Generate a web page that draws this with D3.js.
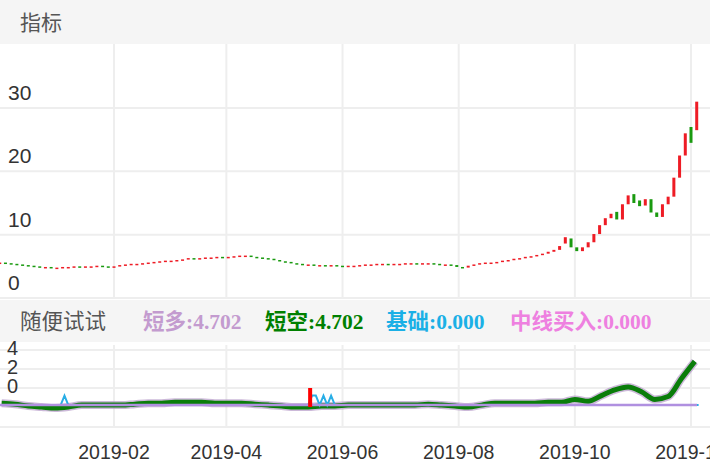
<!DOCTYPE html>
<html><head><meta charset="utf-8">
<script src="https://cdn.jsdelivr.net/npm/d3@7"></script>
<style>body{margin:0;background:#fff}svg{display:block}</style>
</head><body><svg id="c" width="710" height="472"></svg>
<script>
// candle closes, one every 3 days from 2018-12-03
var closes = [5.6,5.5,5.4,5.3,5.2,5.1,5.0,4.9,4.9,4.8,
  4.8,4.9,4.9,5.0,4.9,5.0,5.0,5.1,5.0,4.9,
  5.0,5.2,5.3,5.4,5.4,5.5,5.6,5.7,5.8,5.9,
  5.9,6.0,6.1,6.3,6.2,6.3,6.4,6.4,6.5,6.4,
  6.5,6.6,6.7,6.7,6.5,6.4,6.3,6.2,6.0,5.8,
  5.7,5.5,5.4,5.3,5.3,5.2,5.2,5.1,5.2,5.1,
  5.0,5.1,5.1,5.2,5.3,5.3,5.4,5.4,5.3,5.4,
  5.4,5.5,5.5,5.4,5.5,5.5,5.4,5.3,5.3,5.2,
  4.9,4.8,5.1,5.3,5.5,5.6,5.6,5.7,5.9,6.0,
  6.2,6.3,6.5,6.6,6.8,7.0,7.3,7.6,8.2,9.6,
  8.0,7.4,8.0,8.8,10.1,11.5,12.6,13.3,12.4,14.8,
  16.2,15.0,14.5,15.6,13.5,12.8,14.8,16.0,19.0,22.5,
  26.0,24.5,31.0];
var opens = [5.5,5.6,5.5,5.4,5.3,5.2,5.1,5.0,4.9,4.9,
  4.8,4.8,4.9,4.9,5.0,4.9,5.0,5.0,5.1,5.0,
  4.9,5.0,5.2,5.3,5.4,5.4,5.5,5.6,5.7,5.8,
  5.9,5.9,6.0,6.1,6.3,6.2,6.3,6.4,6.4,6.5,
  6.4,6.5,6.6,6.7,6.7,6.5,6.4,6.3,6.2,6.0,
  5.8,5.7,5.5,5.4,5.3,5.3,5.2,5.2,5.1,5.2,
  5.1,5.0,5.1,5.1,5.2,5.3,5.3,5.4,5.4,5.3,
  5.4,5.4,5.5,5.5,5.4,5.5,5.5,5.4,5.3,5.3,
  5.2,4.9,4.8,5.1,5.3,5.5,5.6,5.6,5.7,5.9,
  6.0,6.2,6.3,6.5,6.6,6.8,7.0,7.3,7.6,8.6,
  9.4,8.0,7.4,8.0,8.8,10.1,11.5,12.6,13.6,12.4,
  14.8,16.4,15.4,14.6,15.6,13.5,12.8,14.8,16.0,19.0,
  22.5,27.0,26.5];
var yTicks = [0,10,20,30];
var monthTicks = ["2019-02-01","2019-04-01","2019-06-01","2019-08-01","2019-10-01","2019-12-01"];

// indicator, weekly from 2018-12-04
var shortEmpty = [-1.6,-1.7,-1.9,-2.0,-2.1,-2.0,-1.8,-1.8,-1.8,-1.8,-1.7,-1.6,-1.6,-1.5,-1.5,-1.5,-1.6,
  -1.6,-1.6,-1.7,-1.8,-1.9,-2.0,-2.0,-1.9,-1.9,-1.8,-1.8,-1.8,-1.8,-1.8,-1.8,-1.7,-1.8,-1.9,-2.0,
  -1.8,-1.6,-1.6,-1.6,-1.6,-1.5,-1.5,-1.2,-1.4,-0.8,-0.2,0.1,-0.4,-1.2,-0.9,1.0,2.8];
var baseDates = ["2018-12-03","2019-01-04","2019-01-06","2019-01-08","2019-05-14","2019-05-16","2019-05-18","2019-05-20",
  "2019-05-22","2019-05-24","2019-05-26","2019-05-28","2019-12-05"];
var baseVals = [-1.8,-1.8,-0.8,-1.8,-1.8,-0.8,-0.8,-1.8,-0.8,-1.8,-0.8,-1.8,-1.8];
var midLine = -1.8;
var signalDate = "2019-05-15", signalRange = [0,-2];
var subTicks = [0,2,4];

var parse = d3.timeParse("%Y-%m-%d");
var svg = d3.select("#c");
var x = d3.scaleTime().domain([parse("2019-02-01"), parse("2019-12-01")]).range([114, 691]);
var y = d3.scaleLinear().domain([0,30]).range([298,108]);
var ys = d3.scaleLinear().domain([0,4]).range([388,350]);

// header bands
svg.append("rect").attr("x",0).attr("y",0).attr("width",710).attr("height",44).attr("fill","#f5f5f5");
svg.append("text").attr("x",20).attr("y",30).attr("font-size",21).attr("fill","#555")
  .attr("font-family","Noto Sans CJK SC").text("指标");
svg.append("rect").attr("x",0).attr("y",300).attr("width",710).attr("height",42).attr("fill","#f5f5f5");

// grid
var g = svg.append("g").attr("stroke","#eee").attr("stroke-width",2);
monthTicks.forEach(function(m){
  g.append("line").attr("x1",x(parse(m))).attr("x2",x(parse(m))).attr("y1",44).attr("y2",298);
  g.append("line").attr("x1",x(parse(m))).attr("x2",x(parse(m))).attr("y1",345).attr("y2",428);
});
yTicks.forEach(function(t){ g.append("line").attr("x1",0).attr("x2",710).attr("y1",y(t)).attr("y2",y(t)); });
subTicks.forEach(function(t){ g.append("line").attr("x1",0).attr("x2",710).attr("y1",ys(t)).attr("y2",ys(t)); });
g.append("line").attr("x1",0).attr("x2",710).attr("y1",427).attr("y2",427);

yTicks.forEach(function(t){
  svg.append("text").attr("x",8).attr("y",y(t)-8).attr("font-size",21).attr("fill","#333")
    .attr("font-family","Liberation Sans").text(t);
});

// candles
var start = parse("2018-12-03");
closes.forEach(function(c,i){
  var d = d3.timeDay.offset(start, i*3), o = opens[i];
  var top = y(Math.max(o,c)), bot = y(Math.min(o,c));
  svg.append("rect").attr("x",x(d)-1.5).attr("width",3)
    .attr("y",top).attr("height",Math.max(1.5,bot-top))
    .attr("fill", c>=o ? "#ee1c25" : "#1a9a10");
});

// sub chart labels
subTicks.forEach(function(t){
  svg.append("text").attr("x",7).attr("y",ys(t)+5).attr("font-size",20).attr("fill","#333")
    .attr("font-family","Liberation Sans").text(t);
});

var wk = shortEmpty.map(function(v,i){ return [d3.timeDay.offset(parse("2018-12-04"), i*7), v]; });
var line = d3.line().x(function(d){return x(d[0]);}).y(function(d){return ys(d[1]);}).curve(d3.curveMonotoneX);
svg.append("path").attr("d",line(wk)).attr("fill","none").attr("stroke","#b79bc9").attr("stroke-width",8).attr("opacity",0.7);
svg.append("path").attr("d",line(wk)).attr("fill","none").attr("stroke","#0a7d0a").attr("stroke-width",5);
var bl = baseDates.map(function(d,i){ return [parse(d), baseVals[i]]; });
svg.append("path").attr("d",d3.line().x(function(d){return x(d[0]);}).y(function(d){return ys(d[1]);})(bl))
  .attr("fill","none").attr("stroke","#29aee6").attr("stroke-width",2);
svg.append("line").attr("x1",0).attr("x2",697).attr("y1",ys(midLine)).attr("y2",ys(midLine))
  .attr("stroke","#b090e0").attr("stroke-width",2.5);
svg.append("rect").attr("x",x(parse(signalDate))-2).attr("width",4)
  .attr("y",ys(signalRange[0])).attr("height",ys(signalRange[1])-ys(signalRange[0])).attr("fill","#f00");

// legend
var leg = [["随便试试","#555",20,false],
  ["短多:4.702","#c39bcf",143,true],["短空:4.702","#008000",265,true],
  ["基础:0.000","#1bb0e6",386,true],["中线买入:0.000","#ee80e0",510,true]];
leg.forEach(function(l){
  svg.append("text").attr("x",l[2]).attr("y",329).attr("font-size",21.5).attr("fill",l[1])
    .attr("font-family", l[3] ? "Liberation Serif, Noto Sans CJK SC" : "Noto Sans CJK SC")
    .attr("font-weight", l[3] ? "bold" : "normal").text(l[0]);
});

// x labels
monthTicks.forEach(function(m){
  svg.append("text").attr("x",x(parse(m))).attr("y",459).attr("text-anchor","middle")
    .attr("font-size",19.5).attr("fill","#333").attr("font-family","Liberation Sans")
    .text(d3.timeFormat("%Y-%m")(parse(m)));
});
</script></body></html>
